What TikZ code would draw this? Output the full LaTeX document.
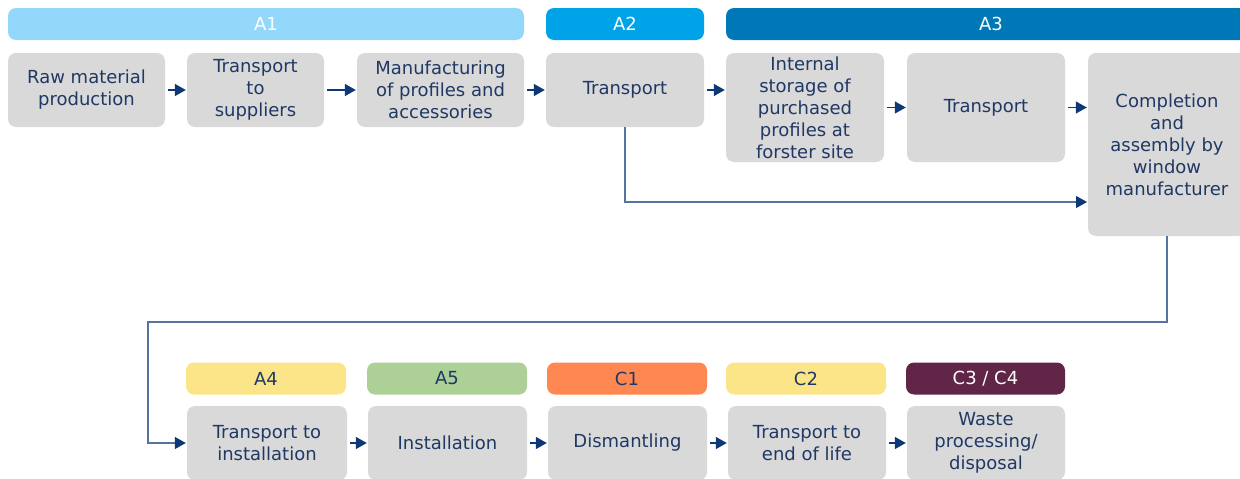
\documentclass[tikz,border=0pt]{standalone}
\usepackage{fontspec}
\setmainfont{DejaVu Sans}
\usetikzlibrary{arrows.meta}

\definecolor{boxgray}{HTML}{D9D9D9}
\definecolor{txtblue}{HTML}{203864}
\definecolor{arrblue}{HTML}{0D3875}
\definecolor{lineblue}{HTML}{5572A0}
\definecolor{aone}{HTML}{93D8FA}
\definecolor{atwo}{HTML}{00A2E8}
\definecolor{athree}{HTML}{0077B6}
\definecolor{ayellow}{HTML}{FCE588}
\definecolor{agreen}{HTML}{ADD096}
\definecolor{aorange}{HTML}{FF8752}
\definecolor{apurple}{HTML}{612548}

\tikzset{
  stage/.style={rectangle, rounded corners=8pt, fill=boxgray, text=txtblue,
    align=center, inner sep=0pt, minimum height=74pt,
    font=\fontsize{18}{22}\selectfont},
  phase/.style={rectangle, rounded corners=8pt, inner sep=0pt, minimum height=32pt,
    font=\fontsize{18}{20}\selectfont},
  flow/.style={draw=arrblue, line width=1.4pt, -{Triangle[length=11pt, width=12pt]},
    shorten <=3pt, shorten >=1pt},
  link/.style={draw=lineblue, line width=1.2pt,
    -{Triangle[length=11pt, width=12pt, color=arrblue]}, shorten >=1pt},
}

\begin{document}
\begin{tikzpicture}[x=1pt, y=-1pt]
  \useasboundingbox (0,0) rectangle (1240,479);

  % phase bars, upper row
  \node[phase, fill=aone, text=white, minimum width=516pt] (pA1) at (266,24) {A1};
  \node[phase, fill=atwo, text=white, minimum width=158pt] (pA2) at (625,24) {A2};
  \node[phase, fill=athree, text=white, minimum width=530pt] (pA3) at (991,24) {A3};

  % upper row
  \node[stage, minimum width=157pt] (raw) at (86.5,90) {Raw material\\production};
  \node[stage, minimum width=137pt] (sup) at (255.5,90) {Transport\\to\\suppliers};
  \node[stage, minimum width=167pt] (man) at (440.5,90) {Manufacturing\\of profiles and\\accessories};
  \node[stage, minimum width=158pt] (tra) at (625,90) {Transport};
  \node[stage, minimum width=158pt, minimum height=109pt] (sto) at (805,107.5)
    {Internal\\storage of\\purchased\\profiles at\\forster site};
  \node[stage, minimum width=158pt, minimum height=109pt] (trb) at (986,107.5) {Transport};
  \node[stage, minimum width=158pt, minimum height=183pt] (com) at (1167,144.5)
    {Completion\\and\\assembly by\\window\\manufacturer};

  % phase bars, lower row
  \node[phase, fill=ayellow, text=txtblue, minimum width=160pt] (pA4) at (266,378.5) {A4};
  \node[phase, fill=agreen, text=txtblue, minimum width=160pt] (pA5) at (447,378.5) {A5};
  \node[phase, fill=aorange, text=txtblue, minimum width=160pt] (pC1) at (627,378.5) {C1};
  \node[phase, fill=ayellow, text=txtblue, minimum width=160pt] (pC2) at (806,378.5) {C2};
  \node[phase, fill=apurple, text=white, minimum width=159pt] (pC3) at (985.5,378.5) {C3 / C4};

  % lower row
  \node[stage, minimum width=160pt] (ins) at (267,443) {Transport to\\installation};
  \node[stage, minimum width=159pt] (inl) at (447.5,443) {Installation};
  \node[stage, minimum width=159pt] (dis) at (627.5,443) {Dismantling};
  \node[stage, minimum width=158pt] (eol) at (807,443) {Transport to\\end of life};
  \node[stage, minimum width=158pt] (was) at (986,443) {Waste\\processing/\\disposal};

  % arrows
  \draw[flow] (raw) -- (sup);
  \draw[flow] (sup) -- (man);
  \draw[flow] (man) -- (tra);
  \draw[flow] (tra) -- (sto.west |- tra);
  \draw[flow] (sto) -- (trb);
  \draw[flow] (trb) -- (com.west |- trb);
  \draw[flow] (ins) -- (inl);
  \draw[flow] (inl) -- (dis);
  \draw[flow] (dis) -- (eol);
  \draw[flow] (eol) -- (was);

  \coordinate (cin) at (1088,202);
  \coordinate (turn) at (148,322);
  \draw[link] (tra.south) |- (cin);
  \draw[link] (com.south) |- (turn) |- (ins.west);
\end{tikzpicture}
\end{document}
